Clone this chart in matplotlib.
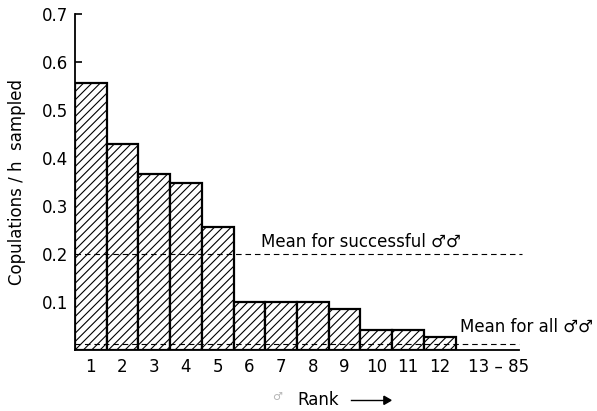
import matplotlib
matplotlib.use("Agg")
import matplotlib.pyplot as plt

# Copulation rate per hour sampled, by male rank
ranks = ["1", "2", "3", "4", "5", "6", "7", "8", "9", "10", "11", "12"]
rates = [0.557, 0.430, 0.366, 0.347, 0.256, 0.100, 0.100, 0.100, 0.085, 0.042, 0.042, 0.028]
tail_label = "13 \u2013 85"
mean_successful = 0.200
mean_all = 0.0125
yticks = [0.1, 0.2, 0.3, 0.4, 0.5, 0.6, 0.7]

plt.rcParams["font.family"] = ["DejaVu Sans"]
plt.rcParams["hatch.linewidth"] = 0.8

fig = plt.figure(figsize=(5.97, 4.11), dpi=100)
ax = fig.add_axes([0.1256, 0.1484, 0.85, 0.8175])

x = list(range(1, len(rates) + 1))
ax.bar(x, rates, width=1.0, facecolor="white", edgecolor="black",
       linewidth=1.6, hatch="////", zorder=2)

tail_end = len(rates) + 2.5
ax.plot([0.5, 14.6], [mean_successful] * 2, ls=(0, (5, 3.5)), color="black", lw=0.8, zorder=3)
ax.plot([0.5, tail_end], [mean_all] * 2, ls=(0, (5, 3.5)), color="black", lw=0.8, zorder=3)

ax.text(6.35, mean_successful + 0.026, "Mean for successful \u2642\u2642", fontsize=12,
        va="center", ha="left")
ax.text(12.65, mean_all + 0.035, "Mean for all \u2642\u2642", fontsize=12,
        va="center", ha="left", clip_on=False)

ax.set_xlim(0.5, 16.5)
ax.set_ylim(0, 0.7)

ax.spines["top"].set_visible(False)
ax.spines["right"].set_visible(False)
ax.spines["left"].set_linewidth(1.3)
ax.spines["bottom"].set_linewidth(1.3)
ax.spines["bottom"].set_bounds(0.5, tail_end)

ax.set_yticks(yticks)
ax.set_yticklabels([f"{v:.1f}" for v in yticks], fontsize=12)
ax.tick_params(axis="y", direction="in", length=5, width=1.2, pad=5)

ax.set_xticks(x + [13.85])
ax.set_xticklabels(ranks + [tail_label], fontsize=12)
ax.tick_params(axis="x", length=0, pad=6)

ax.set_ylabel("Copulations / h  sampled", fontsize=12, labelpad=11)

fig.text(0.464, 0.034, "\u2642", fontsize=8, color="#b5b5b5", ha="center", va="center")
fig.text(0.4975, 0.026, "Rank", fontsize=12, ha="left", va="center")
fig.add_artist(plt.Line2D([0.588, 0.645], [0.026, 0.026], color="black", lw=1.0,
                          transform=fig.transFigure))
fig.patches.append(plt.Polygon([[0.643, 0.036], [0.655, 0.026], [0.643, 0.016]],
                               closed=True, color="black", transform=fig.transFigure,
                               figure=fig))

fig.savefig("out.png", dpi=100)
